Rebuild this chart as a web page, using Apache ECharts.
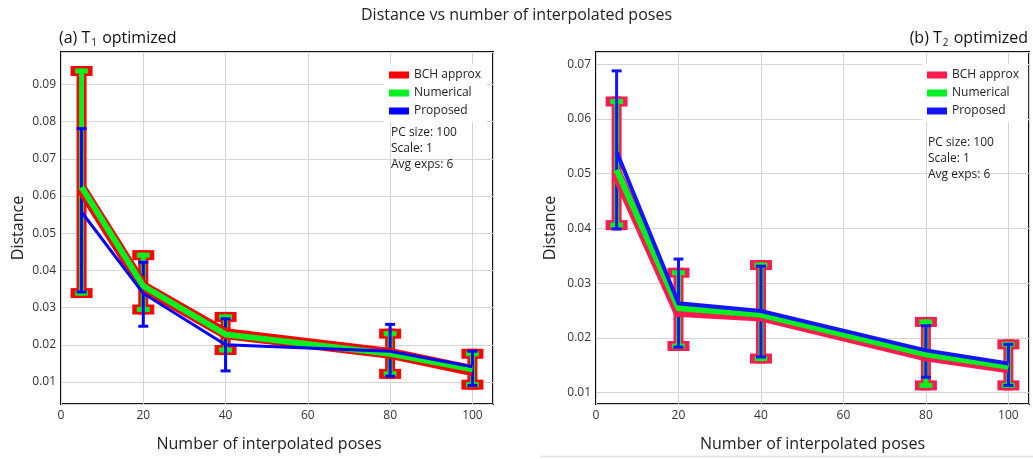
<!DOCTYPE html>
<html>
<head>
<meta charset="utf-8">
<script src="https://cdn.jsdelivr.net/npm/echarts@6/dist/echarts.min.js"></script>
<style>
  html, body { margin: 0; padding: 0; background: #fff; }
  #chart { width: 1033px; height: 459px; }
</style>
</head>
<body>
<div id="chart"></div>
<script>
// x values (number of interpolated poses)
var poses = [5, 20, 40, 80, 100];
var xTicks = [0, 20, 40, 60, 80, 100];

// (a) T1 optimized - mean distance per method
var bchA = [0.0620, 0.0356, 0.0230, 0.0177, 0.0131];
var numA = [0.0624, 0.0358, 0.0228, 0.0176, 0.0134];
var propA = [0.0557, 0.0338, 0.0200, 0.0183, 0.0141];
// (a) error bars (low / high)
var bchLoA = [0.0339, 0.0295, 0.0186, 0.0122, 0.0093];
var bchHiA = [0.0936, 0.0441, 0.0275, 0.0230, 0.0176];
var numLoA = [0.0339, 0.0295, 0.0186, 0.0122, 0.0093];
var numHiA = [0.0936, 0.0441, 0.0275, 0.0230, 0.0176];
var propLoA = [0.0342, 0.0250, 0.0130, 0.0116, 0.0091];
var propHiA = [0.0781, 0.0422, 0.0270, 0.0255, 0.0183];

// (b) T2 optimized
var bchB = [0.0501, 0.0248, 0.0240, 0.0167, 0.0145];
var numB = [0.0507, 0.0254, 0.0242, 0.0170, 0.0147];
var propB = [0.0540, 0.0263, 0.0249, 0.0177, 0.0153];
var bchLoB = [0.0406, 0.0185, 0.0162, 0.0113, 0.0113];
var bchHiB = [0.0632, 0.0319, 0.0333, 0.0229, 0.0188];
var numLoB = [0.0406, 0.0185, 0.0162, 0.0113, 0.0113];
var numHiB = [0.0632, 0.0319, 0.0333, 0.0229, 0.0188];
var propLoB = [0.0399, 0.0183, 0.0165, 0.0128, 0.0113];
var propHiB = [0.0688, 0.0344, 0.0331, 0.0222, 0.0188];

var infoText = 'PC size: 100\nScale: 1\nAvg exps: 6';
var FONT = '"Open Sans", "Noto Sans", sans-serif';

var redA = '#ff0000', redB = '#ff1a50', green = '#00f020', blueA = '#0000ff', blueB = '#1414ff';

var myChart = echarts.init(document.getElementById('chart'), null, { renderer: 'canvas' });

// error bar drawn as stem + two caps
function errRender (w, half, cap, color) {
    return function (params, api) {
        var x = api.value(0), lo = api.value(1), hi = api.value(2);
        var pLo = api.coord([x, lo]);
        var pHi = api.coord([x, hi]);
        function st () { return { stroke: color, lineWidth: w, lineCap: cap, fill: null }; }
        return {
            type: 'group',
            children: [
                { type: 'line', shape: { x1: pLo[0], y1: pLo[1], x2: pHi[0], y2: pHi[1] }, style: st() },
                { type: 'line', shape: { x1: pHi[0] - half, y1: pHi[1], x2: pHi[0] + half, y2: pHi[1] }, style: st() },
                { type: 'line', shape: { x1: pLo[0] - half, y1: pLo[1], x2: pLo[0] + half, y2: pLo[1] }, style: st() }
            ]
        };
    };
}

function errData (lo, hi) {
    return poses.map(function (x, i) { return [x, lo[i], hi[i]]; });
}
function lineData (vals) {
    return poses.map(function (x, i) { return [x, vals[i]]; });
}

function errSeries (idx, lo, hi, w, half, cap, color) {
    return {
        type: 'custom', xAxisIndex: idx, yAxisIndex: idx, silent: true,
        renderItem: errRender(w, half, cap, color),
        encode: { x: 0, y: [1, 2] },
        data: errData(lo, hi)
    };
}
function lineSeries (idx, name, vals, w, color) {
    return {
        type: 'line', name: name, xAxisIndex: idx, yAxisIndex: idx, silent: true,
        symbol: 'none', color: color,
        lineStyle: { width: w, color: color, join: 'miter' },
        data: lineData(vals)
    };
}

function xAxisOpt (idx) {
    return {
        type: 'value', gridIndex: idx, min: 0, max: 105, interval: 20,
        name: 'Number of interpolated poses', nameLocation: 'middle', nameGap: 32,
        nameTextStyle: { fontFamily: FONT, fontSize: 16, color: '#222', padding: idx === 0 ? [0, 16, 0, 0] : 0 },
        axisLine: { show: false }, axisTick: { show: false },
        axisLabel: { fontFamily: FONT, fontSize: 12, color: '#333', margin: 6, showMaxLabel: false,
            formatter: function (v) { return xTicks.indexOf(v) >= 0 ? String(v) : ''; } },
        splitLine: { show: true, lineStyle: { color: '#d4d4d4', width: 1 } }
    };
}
function yAxisOpt (idx, min, max, split, gap) {
    return {
        type: 'value', gridIndex: idx, min: min, max: max, splitNumber: split,
        name: 'Distance', nameLocation: 'middle', nameGap: gap,
        nameTextStyle: { fontFamily: FONT, fontSize: 16, color: '#222' },
        axisLine: { show: false }, axisTick: { show: false },
        axisLabel: { fontFamily: FONT, fontSize: 12, color: '#333', margin: 5, showMinLabel: false, showMaxLabel: false },
        splitLine: { show: true, lineStyle: { color: '#d4d4d4', width: 1 } }
    };
}

var subRich = {
    m: { fontFamily: FONT, fontSize: 16, fontWeight: 'normal', color: '#111', lineHeight: 20 },
    s: { fontFamily: FONT, fontSize: 10, fontWeight: 'normal', color: '#111', lineHeight: 10, verticalAlign: 'bottom', padding: [0, 1, 0, 1] }
};

var option = {
    backgroundColor: '#fff',
    animation: false,
    title: [
        { text: 'Distance vs number of interpolated poses', left: 'center', top: 2,
          textStyle: { fontFamily: FONT, fontSize: 16, fontWeight: 'normal', color: '#222' } },
        { text: '{m|(a) T}{s|1}{m| optimized}', left: 54, top: 23, textStyle: { fontWeight: 'normal', rich: subRich } },
        { text: '{m|(b) T}{s|2}{m| optimized}', right: 0, top: 23, textStyle: { fontWeight: 'normal', rich: subRich } },
        { text: infoText, left: 386, top: 120, textStyle: { fontFamily: FONT, fontSize: 12, fontWeight: 'normal', color: '#222', lineHeight: 16 } },
        { text: infoText, left: 923, top: 130, textStyle: { fontFamily: FONT, fontSize: 12, fontWeight: 'normal', color: '#222', lineHeight: 16 } }
    ],
    legend: [
        { orient: 'vertical', left: 384, top: 64, padding: [4, 6, 4, 5], itemGap: 4,
          itemWidth: 20, itemHeight: 7, icon: 'rect', backgroundColor: '#fff',
          textStyle: { fontFamily: FONT, fontSize: 12, color: '#222', lineHeight: 14 },
          data: [
              { name: 'BCH approx', itemStyle: { color: redA } },
              { name: 'Numerical', itemStyle: { color: green } },
              { name: 'Proposed', itemStyle: { color: blueA } }
          ] },
        { orient: 'vertical', left: 922, top: 64, padding: [4, 6, 4, 5], itemGap: 4,
          itemWidth: 20, itemHeight: 7, icon: 'rect', backgroundColor: '#fff',
          textStyle: { fontFamily: FONT, fontSize: 12, color: '#222', lineHeight: 14 },
          data: [
              { name: 'BCH approx ', itemStyle: { color: redB } },
              { name: 'Numerical ', itemStyle: { color: green } },
              { name: 'Proposed ', itemStyle: { color: blueB } }
          ] }
    ],
    grid: [
        { left: 61, top: 52, width: 432, height: 352, show: true, borderColor: '#111', borderWidth: 2, backgroundColor: 'transparent' },
        { left: 596, top: 52, width: 433, height: 352, show: true, borderColor: '#111', borderWidth: 2, backgroundColor: 'transparent' }
    ],
    xAxis: [xAxisOpt(0), xAxisOpt(1)],
    yAxis: [yAxisOpt(0, 0.0041, 0.0987, 9, 35), yAxisOpt(1, 0.0079, 0.07225, 7, 38)],
    graphic: [
        { type: 'line', shape: { x1: 540, y1: 456.5, x2: 1033, y2: 456.5 }, style: { stroke: '#e8e8e8', lineWidth: 2 }, silent: true }
    ],
    series: [
        // (a)
        errSeries(0, bchLoA, bchHiA, 10, 6, 'square', redA),
        lineSeries(0, 'BCH approx', bchA, 11, redA),
        errSeries(0, numLoA, numHiA, 5, 4, 'square', green),
        lineSeries(0, 'Numerical', numA, 6, green),
        errSeries(0, propLoA, propHiA, 3, 5, 'butt', blueA),
        lineSeries(0, 'Proposed', propA, 3, blueA),
        // (b)
        errSeries(1, bchLoB, bchHiB, 10, 6, 'square', redB),
        lineSeries(1, 'BCH approx ', bchB, 11, redB),
        errSeries(1, numLoB, numHiB, 5, 4, 'square', green),
        lineSeries(1, 'Numerical ', numB, 6, green),
        errSeries(1, propLoB, propHiB, 3, 5, 'butt', blueB),
        lineSeries(1, 'Proposed ', propB, 4, blueB)
    ]
};

myChart.setOption(option);
window.onresize = function () {
    myChart.resize();
};
</script>
</body>
</html>
